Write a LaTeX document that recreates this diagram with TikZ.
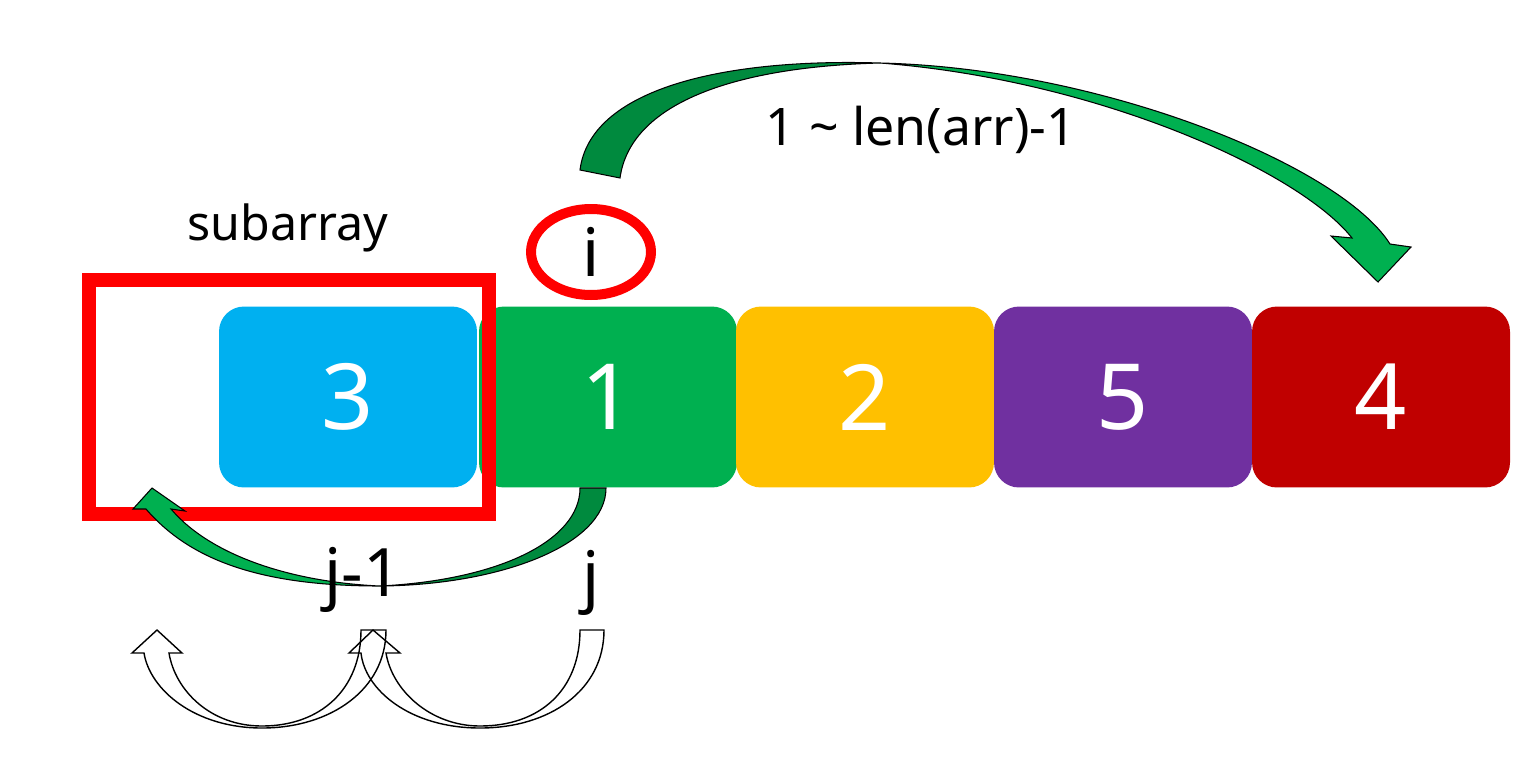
\documentclass[tikz,border=0pt]{standalone}
\usepackage{fontspec}
\setmainfont{Noto Sans}
\usepackage{tikz}
\usetikzlibrary{shapes.geometric}
\definecolor{cblue}{HTML}{00B0F0}
\definecolor{cgreen}{HTML}{00B050}
\definecolor{cyellow}{HTML}{FFC000}
\definecolor{cpurple}{HTML}{7030A0}
\definecolor{cred}{HTML}{C00000}
\definecolor{arrdark}{HTML}{008A3E}
\definecolor{arrlight}{HTML}{00B050}
\begin{document}
\begin{tikzpicture}[
  x=0.02cm, y=-0.02cm,
  cell/.style={rounded corners=0.5cm, minimum width=5.16cm, minimum height=3.62cm,
    inner sep=0pt, text=white, font=\fontsize{52}{60}\selectfont},
  lbl/.style={inner sep=0pt, font=\fontsize{38}{44}\selectfont},
  swoop/.style={draw=black, line width=0.6pt},
  hollow/.style={draw=black, line width=0.8pt, line join=miter},
]
\useasboundingbox (0,0) rectangle (1533,765);
\node[cell, fill=cblue] (c3) at (348,397) {3};
\node[cell, fill=cgreen] (c1) at (608,397) {1};
\node[cell, fill=cyellow] (c2) at (865,397) {2};
\node[cell, fill=cpurple] (c5) at (1123,397) {5};
\node[cell, fill=cred] (c4) at (1381,397) {4};
\node[draw=red, line width=0.28cm, minimum width=8cm, minimum height=4.68cm] (sub) at (289,397) {};
\node[font=\fontsize{27.5}{33}\selectfont] (sublbl) at (288,228) {subarray};
\node[lbl, ellipse, draw=red, line width=0.2cm, minimum width=2.4cm, minimum height=1.72cm] (iring) at (591,252) {i};
\node[font=\fontsize{29.5}{35}\selectfont] (range) at (921,130) {1 \textasciitilde{} len(arr)-1};
\filldraw[swoop, fill=arrdark] (580,170) .. controls (590,90) and (720,58) .. (880,63)
  .. controls (730,67) and (630,105) .. (620,178) -- cycle;
\filldraw[swoop, fill=arrlight] (880,63) .. controls (1100,68) and (1340,165) .. (1390,244)
  -- (1411,247) -- (1378,282) -- (1331,236) -- (1352,238)
  .. controls (1300,172) and (1100,80) .. (880,63) -- cycle;
\filldraw[swoop, fill=arrdark] (580,488) -- (606,488) .. controls (606,545) and (500,585) .. (380,586)
  .. controls (500,580) and (580,540) .. (580,488) -- cycle;
\filldraw[swoop, fill=arrlight] (380,586) .. controls (260,586) and (190,560) .. (146,509)
  -- (133,509) -- (152,488) -- (185,511) -- (171,509)
  .. controls (210,555) and (290,582) .. (380,586) -- cycle;
\node[lbl] (jm) at (363,580) {j-1};
\node[lbl] (j) at (591,583) {j};
\draw[hollow] (604,630) .. controls (604,690) and (550,728) .. (480,728)
  .. controls (410,728) and (365,690) .. (361,653) -- (349,653) -- (373,630) -- (400,653) -- (386,653)
  .. controls (392,690) and (430,726) .. (480,726) .. controls (540,726) and (580,690) .. (580,630) -- cycle;
\draw[hollow] (386,630) .. controls (386,690) and (330,728) .. (262,728)
  .. controls (195,728) and (150,690) .. (144,653) -- (132,653) -- (157,630) -- (182,653) -- (169,653)
  .. controls (175,690) and (210,726) .. (262,726) .. controls (320,726) and (361,690) .. (361,630) -- cycle;
\end{tikzpicture}
\end{document}
